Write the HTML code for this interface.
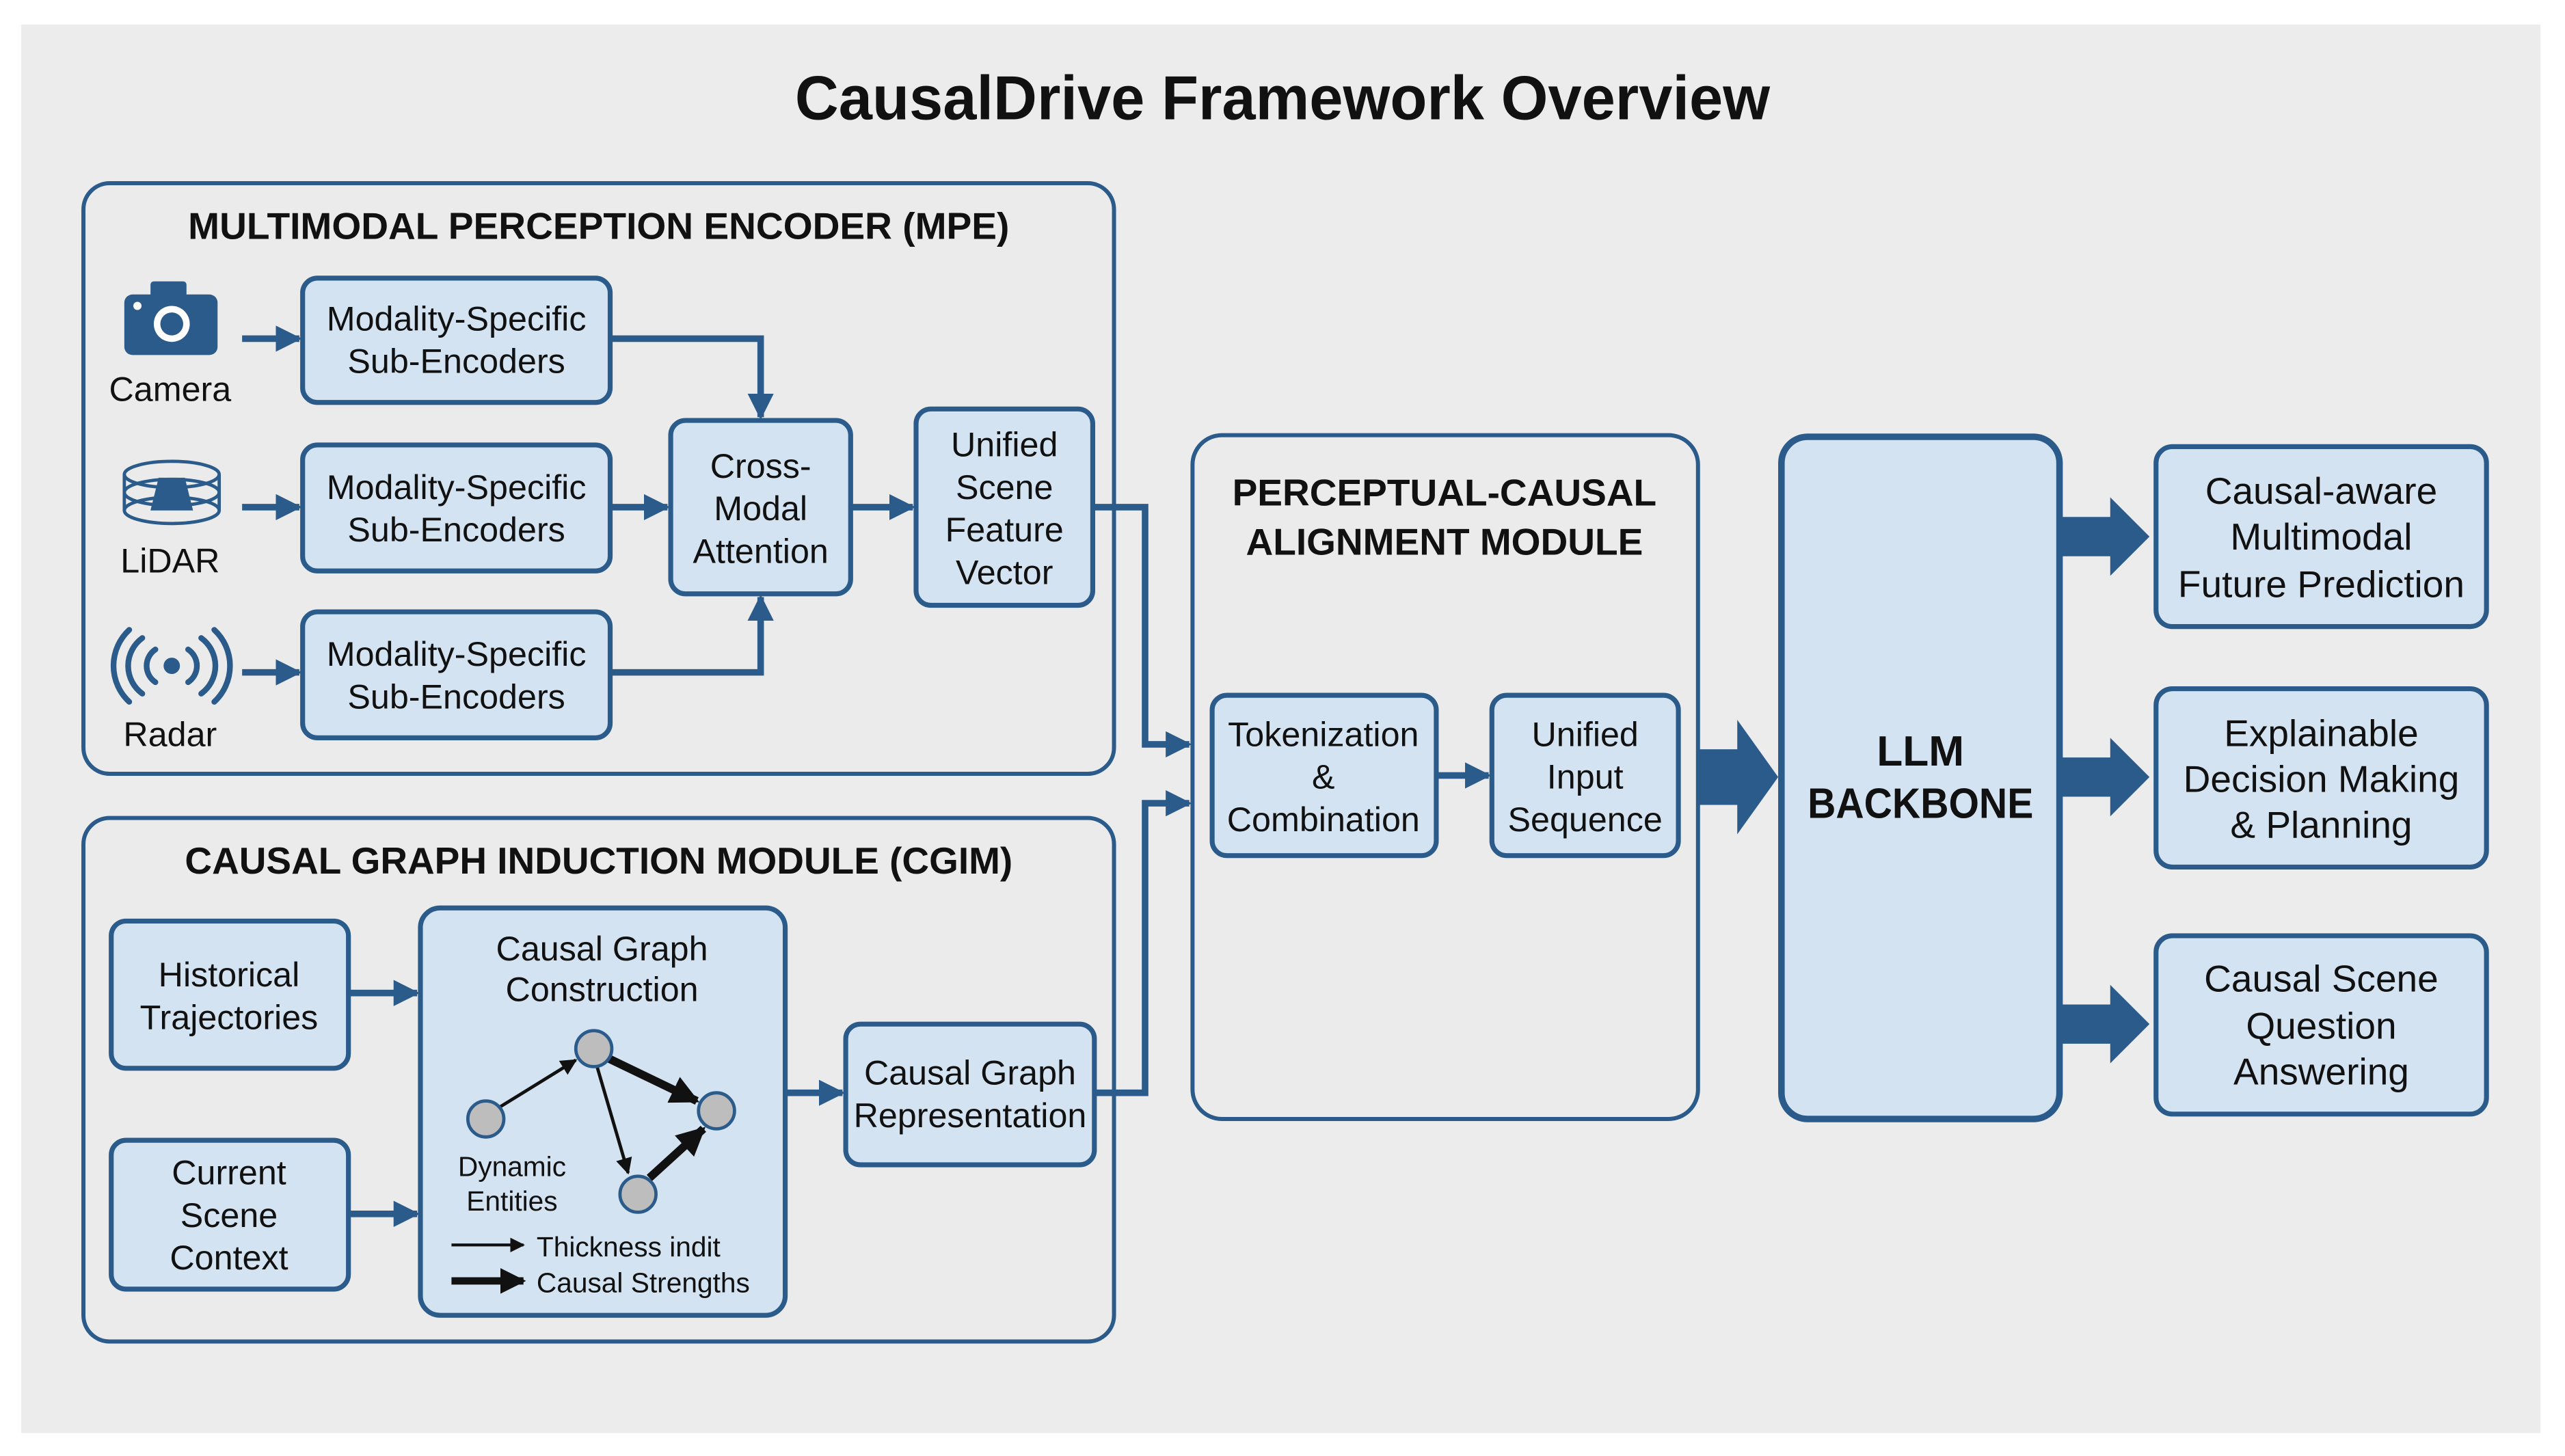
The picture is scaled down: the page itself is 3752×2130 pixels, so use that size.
<!DOCTYPE html>
<html><head><meta charset="utf-8"><style>
html,body{margin:0;padding:0;background:#fff}
svg{display:block}
text{font-family:"Liberation Sans Narrow","Liberation Sans",sans-serif;fill:#111}
.b{font-weight:bold}
</style></head><body>
<svg width="3752" height="2130" viewBox="0 0 1568 890" preserveAspectRatio="none" xmlns="http://www.w3.org/2000/svg">
<defs>
<marker id="ah" viewBox="0 0 10 10" refX="9" refY="5" markerWidth="4" markerHeight="4" orient="auto-start-reverse"><path d="M0,0 L10,5 L0,10 z" fill="#2b5b8a"/></marker>
<marker id="bk" viewBox="0 0 10 10" refX="9" refY="5" markerWidth="5" markerHeight="5" orient="auto"><path d="M0,0 L10,5 L0,10 z" fill="#111"/></marker>
<marker id="bk2" viewBox="0 0 10 10" refX="9" refY="5" markerWidth="3.5" markerHeight="3.5" orient="auto"><path d="M0,0 L10,5 L0,10 z" fill="#111"/></marker>
</defs>
<rect x="0" y="0" width="1568" height="890" fill="#fff"/>
<rect x="13" y="15" width="1540" height="861" fill="#ececec"/>
<text x="486" y="73" class="b" font-size="38" textLength="596" lengthAdjust="spacingAndGlyphs">CausalDrive Framework Overview</text>

<g stroke="#2b5b8a" fill="#ebebeb" stroke-width="2.5">
<rect x="51" y="112" width="630" height="361" rx="16"/>
<rect x="51" y="500" width="630" height="320" rx="16"/>
<rect x="729" y="266" width="309" height="418" rx="18"/>
</g>
<text x="115" y="146" class="b" font-size="23" textLength="502" lengthAdjust="spacingAndGlyphs">MULTIMODAL PERCEPTION ENCODER (MPE)</text>
<text x="113" y="534" class="b" font-size="23" textLength="506" lengthAdjust="spacingAndGlyphs">CAUSAL GRAPH INDUCTION MODULE (CGIM)</text>
<text x="883" y="309" text-anchor="middle" class="b" font-size="23">PERCEPTUAL-CAUSAL</text>
<text x="883" y="339" text-anchor="middle" class="b" font-size="23">ALIGNMENT MODULE</text>

<g stroke="#2b5b8a" fill="#d4e3f1" stroke-width="3">
<rect x="185" y="170" width="188" height="76" rx="9"/>
<rect x="185" y="272" width="188" height="77" rx="9"/>
<rect x="185" y="374" width="188" height="77" rx="9"/>
<rect x="410" y="257" width="110" height="106" rx="9"/>
<rect x="560" y="250" width="108" height="120" rx="9"/>
<rect x="68" y="563" width="145" height="90" rx="9"/>
<rect x="68" y="697" width="145" height="91" rx="9"/>
<rect x="257" y="555" width="223" height="249" rx="12"/>
<rect x="517" y="626" width="152" height="86" rx="9"/>
<rect x="741" y="425" width="137" height="98" rx="9"/>
<rect x="912" y="425" width="114" height="98" rx="9"/>
<rect x="1089" y="267" width="170" height="417" rx="16" stroke-width="4"/>
<rect x="1318" y="273" width="202" height="110" rx="10"/>
<rect x="1318" y="421" width="202" height="109" rx="10"/>
<rect x="1318" y="572" width="202" height="109" rx="10"/>
</g>

<g font-size="21" text-anchor="middle">
<text x="279" y="202">Modality-Specific</text><text x="279" y="228">Sub-Encoders</text>
<text x="279" y="305">Modality-Specific</text><text x="279" y="331">Sub-Encoders</text>
<text x="279" y="407">Modality-Specific</text><text x="279" y="433">Sub-Encoders</text>
<text x="465" y="292">Cross-</text><text x="465" y="318">Modal</text><text x="465" y="344">Attention</text>
<text x="614" y="279">Unified</text><text x="614" y="305">Scene</text><text x="614" y="331">Feature</text><text x="614" y="357">Vector</text>
<text x="104" y="245">Camera</text><text x="104" y="350">LiDAR</text><text x="104" y="456">Radar</text>
<text x="140" y="603">Historical</text><text x="140" y="629">Trajectories</text>
<text x="140" y="724">Current</text><text x="140" y="750">Scene</text><text x="140" y="776">Context</text>
<text x="368" y="587">Causal Graph</text><text x="368" y="612">Construction</text>
<text x="593" y="663">Causal Graph</text><text x="593" y="689">Representation</text>
<text x="809" y="456">Tokenization</text><text x="809" y="482">&amp;</text><text x="809" y="508">Combination</text>
<text x="969" y="456">Unified</text><text x="969" y="482">Input</text><text x="969" y="508">Sequence</text>
</g>
<g font-size="23" text-anchor="middle">
<text x="1419" y="308">Causal-aware</text><text x="1419" y="336">Multimodal</text><text x="1419" y="365">Future Prediction</text>
<text x="1419" y="456">Explainable</text><text x="1419" y="484">Decision Making</text><text x="1419" y="512">&amp; Planning</text>
<text x="1419" y="606">Causal Scene</text><text x="1419" y="635">Question</text><text x="1419" y="663">Answering</text>
</g>
<text x="1174" y="468" text-anchor="middle" class="b" font-size="26">LLM</text>
<text x="1105" y="500" class="b" font-size="26" textLength="138" lengthAdjust="spacingAndGlyphs">BACKBONE</text>

<!-- icons -->
<g fill="#2b5b8a">
<rect x="76" y="180" width="57" height="37" rx="5"/><rect x="92" y="172" width="22" height="10" rx="2"/>
<circle cx="105" cy="198" r="11" fill="#fff"/><circle cx="105" cy="198" r="7"/><circle cx="84" cy="187" r="2.5" fill="#fff"/>
</g>
<g fill="none" stroke="#2b5b8a" stroke-width="2">
<ellipse cx="105" cy="290" rx="29" ry="8"/><ellipse cx="105" cy="301" rx="29" ry="8"/><ellipse cx="105" cy="312" rx="29" ry="8"/>
<path d="M76 290 V312 M134 290 V312"/>
</g>
<path d="M97 292 H113 L118 312 H92 z" fill="#2b5b8a"/>
<g fill="none" stroke="#2b5b8a" stroke-width="3.5" stroke-linecap="round">
<path d="M95 397 A12 12 0 0 0 95 417"/><path d="M115 397 A12 12 0 0 1 115 417"/>
<path d="M87 390 A21 21 0 0 0 87 424"/><path d="M123 390 A21 21 0 0 1 123 424"/>
<path d="M79 385 A30 30 0 0 0 79 429"/><path d="M131 385 A30 30 0 0 1 131 429"/>
</g>
<circle cx="105" cy="407" r="5" fill="#2b5b8a"/>

<!-- connectors -->
<g stroke="#2b5b8a" stroke-width="4" fill="none" marker-end="url(#ah)">
<path d="M148 207 H183"/><path d="M148 310 H183"/><path d="M148 411 H183"/>
<path d="M373 207 H465 V255"/><path d="M373 411 H465 V365"/>
<path d="M373 310 H408"/><path d="M520 310 H558"/>
<path d="M668 310 H700 V455 H727"/><path d="M668 668 H700 V491 H727"/>
<path d="M213 607 H255"/><path d="M213 742 H255"/>
<path d="M480 668 H515"/><path d="M878 474 H910"/>
</g>
<!-- big arrows -->
<g fill="#2b5b8a">
<path d="M1038 458 H1062 V440 L1087 475 L1062 510 V492 H1038 z"/>
<path d="M1260 316 H1290 V304 L1314 328 L1290 352 V340 H1260 z"/>
<path d="M1260 463 H1290 V451 L1314 475 L1290 499 V487 H1260 z"/>
<path d="M1260 614 H1290 V602 L1314 626 L1290 650 V638 H1260 z"/>
</g>

<!-- graph -->
<g stroke="#111" fill="none">
<path d="M305 677 L352 648" stroke-width="2" marker-end="url(#bk)"/>
<path d="M372 647 L426 673" stroke-width="5" marker-end="url(#bk2)"/>
<path d="M365 652 L384 717" stroke-width="2" marker-end="url(#bk)"/>
<path d="M397 720 L430 690" stroke-width="5" marker-end="url(#bk2)"/>
<path d="M276 761 H320" stroke-width="1.8" marker-end="url(#bk)"/>
<path d="M276 783 H320" stroke-width="4.5" marker-end="url(#bk2)"/>
</g>
<g fill="#bdbdbd" stroke="#2b5b8a" stroke-width="2">
<circle cx="297" cy="684" r="11"/><circle cx="363" cy="641" r="11"/><circle cx="438" cy="679" r="11"/><circle cx="390" cy="730" r="11"/>
</g>
<g font-size="17">
<text x="313" y="719" text-anchor="middle">Dynamic</text><text x="313" y="740" text-anchor="middle">Entities</text>
<text x="328" y="768">Thickness indit</text><text x="328" y="790">Causal Strengths</text>
</g>
</svg>
</body></html>
